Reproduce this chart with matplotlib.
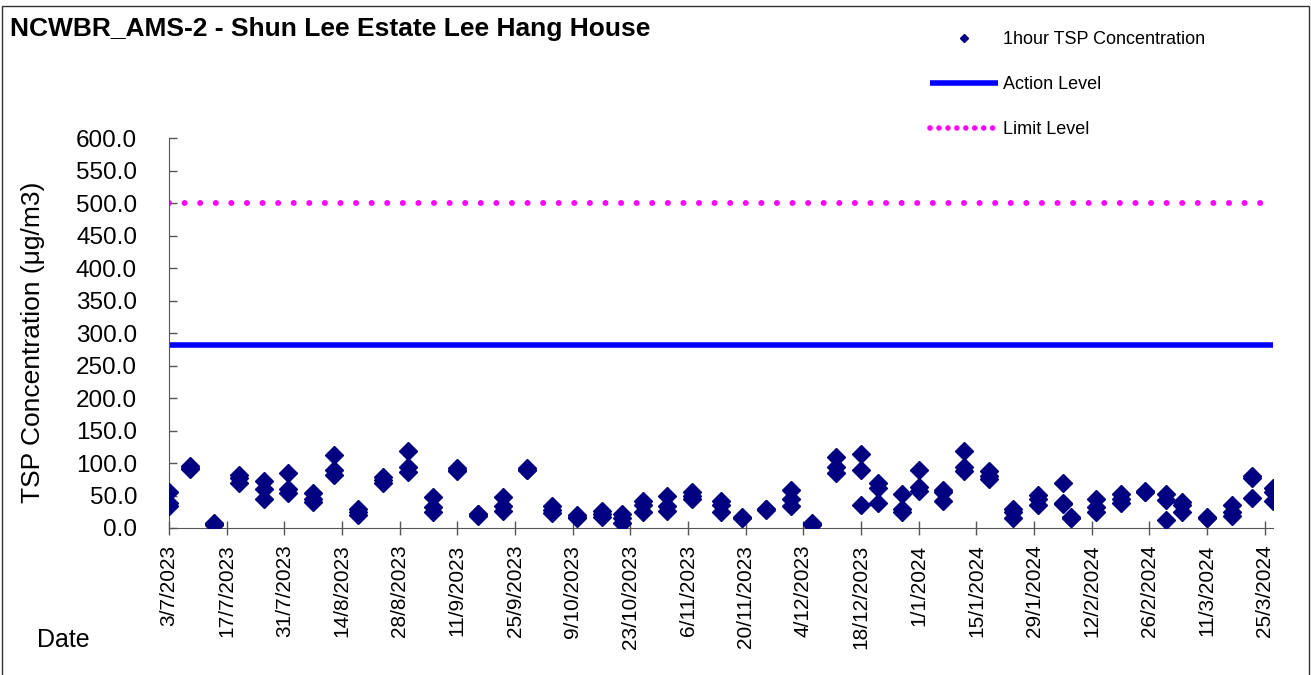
import numpy as np
import pandas as pd
import matplotlib as mpl
import matplotlib.pyplot as plt
from matplotlib.lines import Line2D
from matplotlib.patches import Rectangle

plt.rcParams['font.family'] = ['Liberation Sans', 'DejaVu Sans']

# sampling days (three 1-hour readings each)
sample_dates = ['2023-07-03', '2023-07-08', '2023-07-14', '2023-07-20', '2023-07-26',
                '2023-08-01', '2023-08-07', '2023-08-12', '2023-08-18', '2023-08-24',
                '2023-08-30', '2023-09-05', '2023-09-11', '2023-09-16', '2023-09-22',
                '2023-09-28', '2023-10-04', '2023-10-10', '2023-10-16', '2023-10-21',
                '2023-10-26', '2023-11-01', '2023-11-07', '2023-11-14', '2023-11-19',
                '2023-11-25', '2023-12-01', '2023-12-06', '2023-12-12', '2023-12-18',
                '2023-12-22', '2023-12-28', '2024-01-01', '2024-01-07', '2024-01-12',
                '2024-01-18', '2024-01-24', '2024-01-30', '2024-02-05', '2024-02-07',
                '2024-02-13', '2024-02-19', '2024-02-25', '2024-03-01', '2024-03-05',
                '2024-03-11', '2024-03-17', '2024-03-22', '2024-03-27']
tsp_1st = [56, 95, 7, 82, 73, 84, 54, 112, 30, 78, 119, 47, 92, 22, 48, 92, 34,
           20, 26, 22, 42, 49, 56, 42, 17, 30, 58, 7, 110, 114, 70, 53, 90, 58,
           119, 87, 30, 51, 69, 16, 44, 53, 57, 53, 40, 17, 35, 80, 61]
tsp_2nd = [38, 93, 6, 77, 60, 60, 45, 89, 25, 74, 94, 33, 90, 21, 34, 90, 28,
           17, 22, 15, 35, 34, 50, 35, 16, 29, 45, 6, 94, 90, 61, 30, 63, 55,
           94, 80, 24, 44, 38, 15, 33, 44, 56, 43, 35, 16, 25, 77, 55]
tsp_3rd = [34, 91, 5, 70, 45, 54, 40, 82, 20, 70, 86, 25, 88, 19, 26, 89, 23,
           15, 17, 8, 24, 26, 44, 25, 15, 28, 34, 5, 85, 35, 39, 25, 57, 42,
           87, 75, 15, 35, 37, 17, 24, 38, 55, 13, 24, 15, 18, 46, 42]

action_level = 281.5
limit_level = 500.0
axis_start = '2023-07-03'
axis_end = '2024-03-27'

dates = pd.to_datetime(sample_dates)
x_all = np.concatenate([dates.values, dates.values, dates.values])
y_all = np.concatenate([tsp_1st, tsp_2nd, tsp_3rd])
x0, x1 = pd.to_datetime(axis_start), pd.to_datetime(axis_end)

W, H = 1311, 675
fig = plt.figure(figsize=(W / 100, H / 100), dpi=100)
ax = fig.add_axes([169 / W, 1 - 528 / H, (1273 - 169) / W, (528 - 138) / H])

pts, = ax.plot(x_all, y_all, 'D', color='#000080', ms=9, linestyle='none',
               label='1hour TSP Concentration', zorder=3)
act, = ax.plot([x0, x1], [action_level, action_level], color='#0000FF', lw=4,
               solid_capstyle='butt', label='Action Level')
ax.plot([x0, x1], [limit_level, limit_level], color='#FF00FF', lw=4.3,
        linestyle=(0, (0.01, 2.6)), dash_capstyle='round')

ax.set_xlim(x0, x1)
ax.set_ylim(0, 600)
ticks = pd.date_range(axis_start, axis_end, freq='14D')
ax.set_xticks(ticks)
ax.set_xticklabels([f"{d.day}/{d.month}/{d.year}" for d in ticks])
yt = np.arange(0, 601, 50)
ax.set_yticks(yt)
ax.set_yticklabels([f"{v:.1f}" for v in yt])

for s in ['top', 'right']:
    ax.spines[s].set_visible(False)
for s in ['left', 'bottom']:
    ax.spines[s].set_color('#555555')
ax.tick_params(axis='y', direction='in', length=6, width=1, color='#555555',
               pad=23, labelsize=17.5)
ax.tick_params(axis='x', direction='inout', length=10, width=1, color='#555555',
               pad=7, labelsize=15, labelrotation=90)

ax.set_ylabel('TSP Concentration (μg/m3)', fontsize=19, va='center')
ax.yaxis.set_label_coords(-0.123, 0.477)

fig.text(37 / W, 1 - 640 / H, 'Date', fontsize=18, ha='left', va='center')
fig.text(10 / W, 1 - 29 / H, 'NCWBR_AMS-2 - Shun Lee Estate Lee Hang House',
         fontsize=19, fontweight='bold', ha='left', va='center')

lim_handle = Line2D([], [], color='#FF00FF', lw=4, linestyle=(0, (0.01, 1.6)),
                    dash_capstyle='round')
fig.legend([pts, act, lim_handle],
           ['1hour TSP Concentration', 'Action Level', 'Limit Level'],
           loc='upper left', bbox_to_anchor=(930 / W, 1 - 31 / H), frameon=False,
           fontsize=13, handlelength=3.77, handletextpad=0.28, labelspacing=1.56,
           borderpad=0, borderaxespad=0, markerscale=0.42)

fig.add_artist(Rectangle((2 / W, -0.01), (1309 - 2) / W, 1.01 - 6 / H,
                         transform=fig.transFigure, fill=False,
                         edgecolor='#333333', lw=1))

fig.savefig('out.png', dpi=100)
